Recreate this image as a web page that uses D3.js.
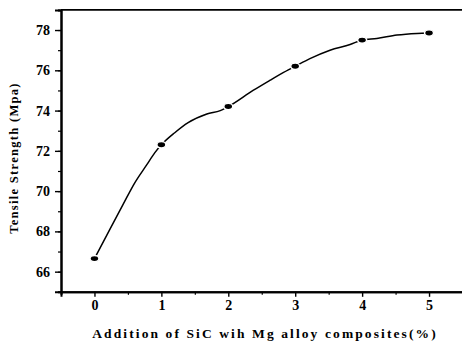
<!DOCTYPE html>
<html>
<head>
<meta charset="utf-8">
<script src="https://cdn.jsdelivr.net/npm/d3@7"></script>
<style>
  body { margin: 0; background: #fff; }
  text { font-family: "Liberation Serif", "Times New Roman", serif; font-weight: bold; fill: #000; }
</style>
</head>
<body>
<svg id="chart"></svg>
<script>
const width = 462, height = 344;

// Measured points (markers)
const sicPct = [0, 1, 2, 3, 4, 5];
const strength = [66.65, 72.3, 74.2, 76.2, 77.5, 77.85];

// Fitted curve
const curveX = [0, 0.23, 0.43, 0.6, 0.78, 0.9, 1, 1.2, 1.4, 1.68, 1.88, 2, 2.37, 2.62, 2.8, 3, 3.22, 3.52, 3.82, 4, 4.22, 4.52, 4.82, 5];
const curveY = [66.65, 68.1, 69.35, 70.4, 71.3, 71.9, 72.3, 72.9, 73.4, 73.83, 74.0, 74.2, 75.0, 75.5, 75.85, 76.2, 76.58, 77.0, 77.28, 77.5, 77.58, 77.75, 77.83, 77.85];

const yTicks = [66, 68, 70, 72, 74, 76, 78];
const xTicks = [0, 1, 2, 3, 4, 5];

const svg = d3.select("#chart").attr("width", width).attr("height", height);

// Scales
const x = d3.scaleLinear().domain([-0.5, 5.5]).range([61, 462.5]);
const y = d3.scaleLinear().domain([65, 79]).range([291.8, 9.9]);

// Top frame line
svg.append("line")
    .attr("x1", x(-0.5)).attr("x2", width)
    .attr("y1", y(79)).attr("y2", y(79))
    .attr("stroke", "#000").attr("stroke-width", 1.6);

// Y axis with minor ticks
const yAxis = svg.append("g").attr("transform", `translate(${x(-0.5)},0)`);
yAxis.call(d3.axisLeft(y).tickValues(d3.range(65, 79.01, 1)).tickSize(3).tickFormat(""));
yAxis.call(g => g.selectAll(".tick line").attr("stroke-width", 1.2));
const yMajor = svg.append("g").attr("transform", `translate(${x(-0.5)},0)`)
    .call(d3.axisLeft(y).tickValues(yTicks).tickSize(6).tickPadding(5).tickFormat(d3.format("d")));
yMajor.selectAll(".tick line").attr("stroke-width", 1.4);
yMajor.selectAll(".tick text").style("font-size", "14px").style("font-family", "Liberation Serif, serif").style("font-weight", "bold");

// X axis with minor ticks
const xAxis = svg.append("g").attr("transform", `translate(0,${y(65)})`);
xAxis.call(d3.axisBottom(x).tickValues(d3.range(-0.5, 5.01, 1)).tickSize(3).tickFormat(""));
xAxis.call(g => g.selectAll(".tick line").attr("stroke-width", 1.2));
const xMajor = svg.append("g").attr("transform", `translate(0,${y(65)})`)
    .call(d3.axisBottom(x).tickValues(xTicks).tickSize(5).tickPadding(3).tickFormat(d3.format("d")));
xMajor.selectAll(".tick line").attr("stroke-width", 1.4);
xMajor.selectAll(".tick text").style("font-size", "14px").style("font-family", "Liberation Serif, serif").style("font-weight", "bold");
svg.selectAll(".domain").attr("stroke-width", 2);

// Curve
const line = d3.line().curve(d3.curveMonotoneX).x(d => x(d[0])).y(d => y(d[1]));
svg.append("path")
    .datum(d3.zip(curveX, curveY))
    .attr("d", line)
    .attr("fill", "none")
    .attr("stroke", "#000")
    .attr("stroke-width", 1.5);

// Markers (white stroke leaves a small gap in the line)
svg.selectAll(".pt")
    .data(d3.zip(sicPct, strength))
    .enter().append("ellipse")
    .attr("class", "pt")
    .attr("cx", d => x(d[0]))
    .attr("cy", d => y(d[1]))
    .attr("rx", 4.5).attr("ry", 3.2)
    .attr("fill", "#000")
    .attr("stroke", "#fff")
    .attr("stroke-width", 1.5);

// Axis titles
svg.append("text")
    .attr("transform", `translate(17.5,158) rotate(-90)`)
    .attr("text-anchor", "middle")
    .style("font-size", "12.5px")
    .style("letter-spacing", "1.3px")
    .text("Tensile Strength (Mpa)");

svg.append("text")
    .attr("x", 265).attr("y", 338)
    .attr("text-anchor", "middle")
    .style("font-size", "13.5px")
    .style("letter-spacing", "2.1px")
    .text("Addition of SiC wih Mg alloy composites(%)");
</script>
</body>
</html>
